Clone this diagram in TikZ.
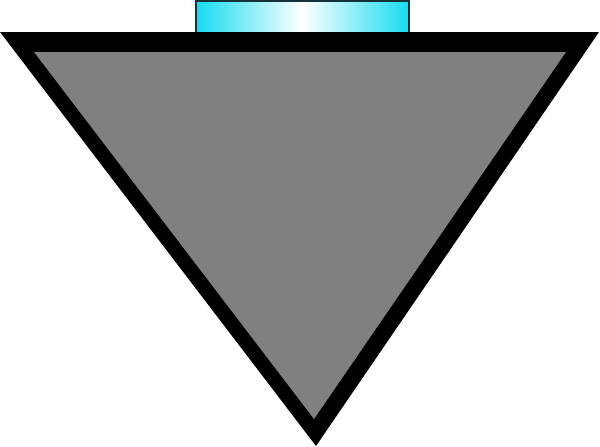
\documentclass[tikz,border=0pt]{standalone}
\begin{document}
\begin{tikzpicture}[x=1pt,y=-1pt,
  barcol/.style={left color=cyanbar,right color=cyanbar,middle color=white,draw=bardark,line width=1.2pt},
]
\definecolor{cyanbar}{RGB}{22,220,240}
\definecolor{bardark}{RGB}{20,50,55}
\definecolor{trigray}{RGB}{128,128,128}
\useasboundingbox (0,0) rectangle (600,447);
% cyan bar on top
\path[barcol] (196,1) rectangle (409,35);
% triangle: black outer, gray inner
\fill[black] (0,32) -- (599,32) -- (316,446) -- cycle;
\fill[trigray] (34,52) -- (566,52) -- (314,419) -- cycle;
\end{tikzpicture}
\end{document}
